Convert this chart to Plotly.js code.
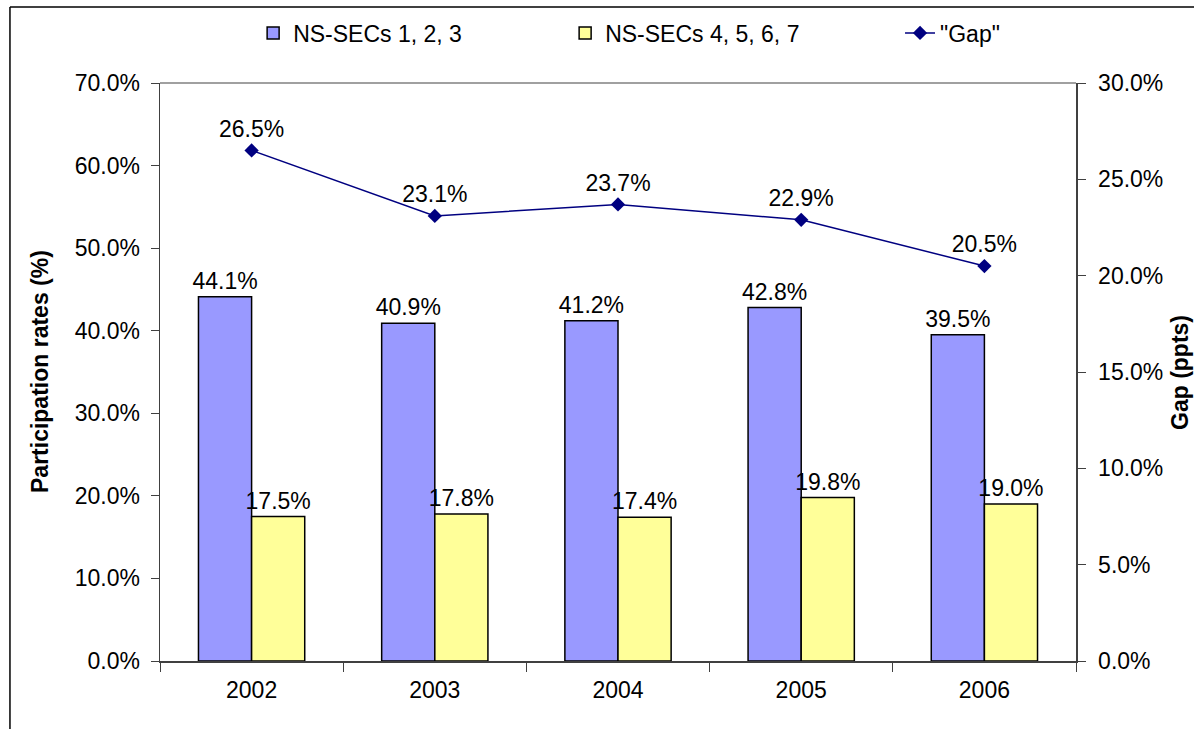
<!DOCTYPE html>
<html>
<head>
<meta charset="utf-8">
<script src="https://cdn.plot.ly/plotly-3.0.1.min.js"></script>
<style>html,body{margin:0;padding:0;background:#fff}#chart{width:1194px;height:729px}</style>
</head>
<body>
<div id="chart"></div>
<script>
const years = ['2002', '2003', '2004', '2005', '2006'];
const nssec123 = [44.1, 40.9, 41.2, 42.8, 39.5];
const nssec4567 = [17.5, 17.8, 17.4, 19.8, 19.0];
const gap = [26.5, 23.1, 23.7, 22.9, 20.5];
const leftTicks = [0, 10, 20, 30, 40, 50, 60, 70];
const rightTicks = [0, 5, 10, 15, 20, 25, 30];

const FONT = 'Liberation Sans, Arial, sans-serif';
const FS = 23;

const traces = [
  {
    type: 'bar', name: 'NS-SECs 1, 2, 3', x: years, y: nssec123,
    marker: {color: '#9999FF', line: {color: '#000000', width: 1.5}},
    text: nssec123.map(v => v.toFixed(1) + '%'), textposition: 'outside', textangle: 0,
    constraintext: 'none',
    textfont: {family: FONT, size: FS, color: '#000'}, cliponaxis: false
  },
  {
    type: 'bar', name: 'NS-SECs 4, 5, 6, 7', x: years, y: nssec4567,
    marker: {color: '#FFFF99', line: {color: '#000000', width: 1.5}},
    text: nssec4567.map(v => v.toFixed(1) + '%'), textposition: 'outside', textangle: 0,
    constraintext: 'none',
    textfont: {family: FONT, size: FS, color: '#000'}, cliponaxis: false
  },
  {
    type: 'scatter', mode: 'lines+markers+text', name: '"Gap"', x: years, y: gap, yaxis: 'y2',
    legend: 'legend2',
    line: {color: '#000080', width: 1.5},
    marker: {symbol: 'diamond', size: 11, color: '#000080'},
    text: gap.map(v => v.toFixed(1) + '%'), textposition: 'top center',
    textfont: {family: FONT, size: FS, color: '#000'}, cliponaxis: false
  }
];

const layout = {
  width: 1194, height: 729,
  margin: {l: 160, r: 118, t: 83, b: 68},
  paper_bgcolor: '#fff', plot_bgcolor: '#fff',
  font: {family: FONT, size: FS, color: '#000'},
  barmode: 'group', bargap: 0.42, bargroupgap: 0,
  showlegend: true,
  legend: {orientation: 'h', xref: 'container', yref: 'container', x: 0.212, xanchor: 'left',
           y: 0.9547, yanchor: 'middle', bgcolor: 'rgba(0,0,0,0)',
           entrywidth: 267, entrywidthmode: 'pixels', font: {family: FONT, size: FS}},
  legend2: {orientation: 'h', xref: 'container', yref: 'container', x: 0.7538, xanchor: 'left',
           y: 0.9547, yanchor: 'middle', bgcolor: 'rgba(0,0,0,0)',
           font: {family: FONT, size: FS}},
  xaxis: {
    type: 'category', showline: true, linecolor: '#404040', linewidth: 1.5,
    ticks: 'outside', tickson: 'boundaries', ticklen: 9, tickcolor: '#404040',
    showgrid: false, zeroline: false, tickfont: {family: FONT, size: FS}, ticklabelstandoff: 8
  },
  yaxis: {
    range: [0, 70], tickvals: leftTicks, ticktext: leftTicks.map(v => v.toFixed(1) + '%'),
    showline: true, linecolor: '#404040', linewidth: 1.5, ticks: 'outside', ticklen: 8, tickcolor: '#404040',
    showgrid: false, zeroline: false, tickfont: {family: FONT, size: FS}, ticklabelstandoff: 6
  },
  yaxis2: {
    overlaying: 'y', side: 'right', range: [0, 30], tickvals: rightTicks,
    ticktext: rightTicks.map(v => v.toFixed(1) + '%'),
    showline: true, linecolor: '#404040', linewidth: 1.5, ticks: 'outside', ticklen: 8, tickcolor: '#404040',
    showgrid: false, zeroline: false, tickfont: {family: FONT, size: FS}, ticklabelstandoff: 8
  },
  annotations: [
    {text: '<b>Participation rates (%)</b>', xref: 'paper', yref: 'paper', x: -0.131, y: 0.5,
     xanchor: 'center', yanchor: 'middle', textangle: -90, showarrow: false,
     font: {family: FONT, size: FS, color: '#000'}},
    {text: '<b>Gap (ppts)</b>', xref: 'paper', yref: 'paper', x: 1.1135, y: 0.5,
     xanchor: 'center', yanchor: 'middle', textangle: -90, showarrow: false,
     font: {family: FONT, size: FS, color: '#000'}}
  ],
  shapes: [
    {type: 'line', xref: 'paper', yref: 'paper', x0: 0, x1: 1, y0: 1, y1: 1, line: {color: '#808080', width: 1.5}},
    {type: 'line', xref: 'paper', yref: 'paper', x0: -0.1638, x1: 1.2, y0: 1.1315, y1: 1.1315, line: {color: '#000', width: 1.5}},
    {type: 'line', xref: 'paper', yref: 'paper', x0: -0.1638, x1: -0.1638, y0: 1.1315, y1: -0.2, line: {color: '#000', width: 1.5}}
  ]
};

Plotly.newPlot('chart', traces, layout, {displayModeBar: false, staticPlot: true});
</script>
</body>
</html>
